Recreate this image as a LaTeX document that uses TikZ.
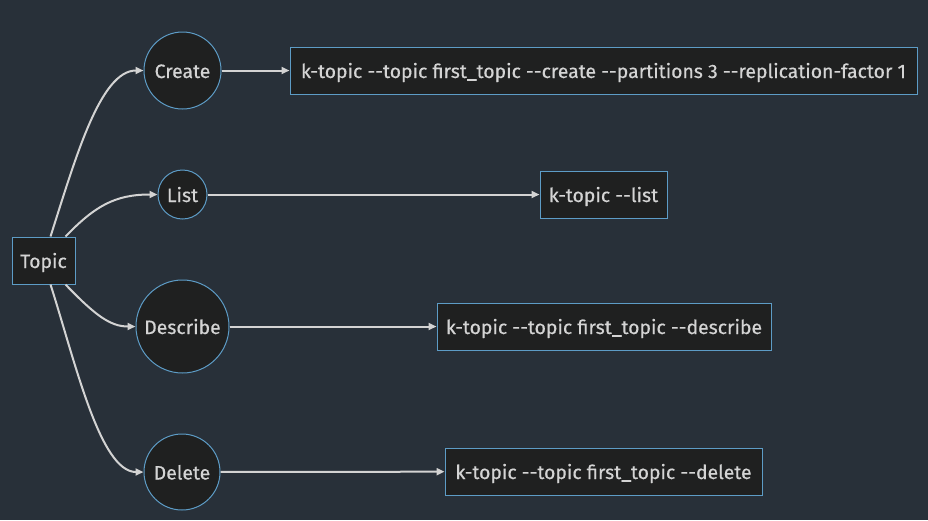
\documentclass[tikz,border=0pt]{standalone}
\usepackage{fontspec}
\setmainfont{Fira Sans}[BoldFont={Fira Sans}, BoldFeatures={FakeBold=0.5}]
\usetikzlibrary{arrows.meta}
\newcommand{\dd}{-{}-}
\definecolor{bgc}{HTML}{283039}
\definecolor{nodefill}{HTML}{1F2020}
\definecolor{nodeline}{HTML}{5D9CC6}
\definecolor{txt}{HTML}{D4D4D4}
\definecolor{edge}{HTML}{D3D3D3}
\tikzset{
  x=1pt, y=-1pt,
  base/.style={fill=nodefill, draw=nodeline, line width=1pt, text=txt, font=\fontsize{19.4}{22}\selectfont\bfseries, inner sep=0pt, text height=17pt, text depth=2pt},
  boxnode/.style={base, rectangle, minimum height=47pt},
  circnode/.style={base, circle},
  conn/.style={draw=edge, line width=2pt, -{Triangle[length=8pt,width=7pt]}},
}
\begin{document}
\begin{tikzpicture}
\fill[bgc] (0,0) rectangle (928,520);
\useasboundingbox (0,0) rectangle (928,520);
\node[boxnode, minimum width=63pt] (topic) at (43.5,260.5) {Topic};
\node[circnode, minimum size=77pt] (create) at (182.5,70.5) {Create};
\node[circnode, minimum size=49pt] (list) at (182.5,194.5) {List};
\node[circnode, minimum size=93pt] (describe) at (182.5,326.5) {Describe};
\node[circnode, minimum size=76pt] (delete) at (182,472) {Delete};
\node[boxnode, minimum width=627pt] (ccreate) at (603.5,70.5) {k-topic \dd topic first\_topic \dd create \dd partitions 3 \dd replication-factor 1};
\node[boxnode, minimum width=127pt] (clist) at (603.5,194.5) {k-topic \dd list};
\node[boxnode, minimum width=334pt] (cdescribe) at (604,326.5) {k-topic \dd topic first\_topic \dd describe};
\node[boxnode, minimum width=317pt] (cdelete) at (603.5,471.5) {k-topic \dd topic first\_topic \dd delete};
\coordinate (t1) at ([xshift=7pt]topic.north);
\coordinate (t2) at ([xshift=22pt]topic.north);
\coordinate (t3) at ([xshift=22pt]topic.south);
\coordinate (t4) at ([xshift=7pt]topic.south);
\draw[conn] (t1) .. controls (75,160) and (100,70.5) .. (create.west);
\draw[conn] (t2) .. controls (95,206) and (115,194.5) .. (list.west);
\draw[conn] (t3) .. controls (95,315) and (110,326.5) .. (describe.west);
\draw[conn] (t4) .. controls (75,361) and (100,472) .. (delete.west);
\draw[conn] (create) -- (ccreate);
\draw[conn] (list) -- (clist);
\draw[conn] (describe) -- (cdescribe);
\draw[conn] (delete) -- (cdelete);
\end{tikzpicture}
\end{document}
